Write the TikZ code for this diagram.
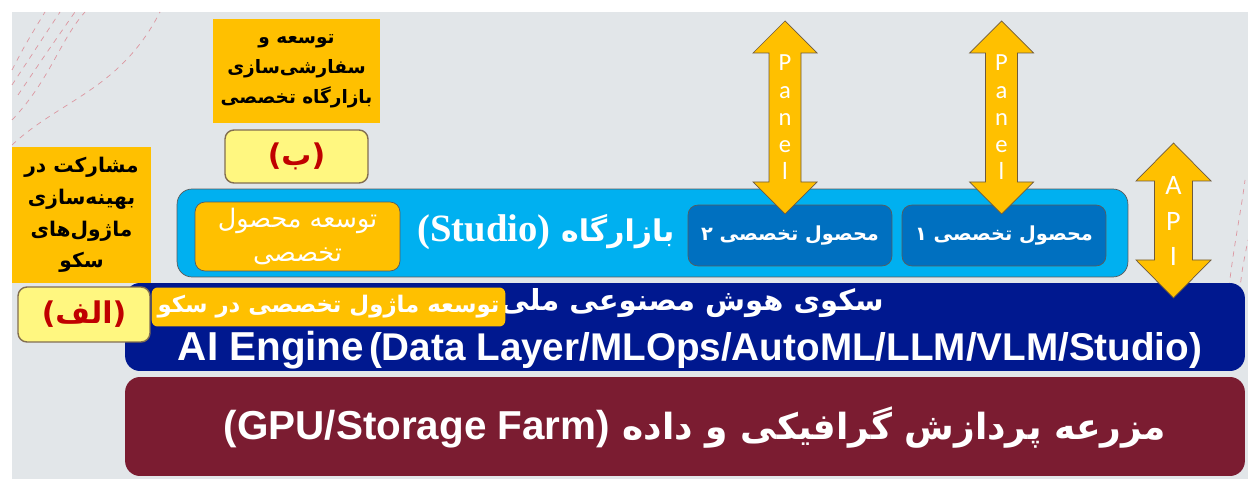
\documentclass[tikz,border=0pt]{standalone}
\usepackage{fontspec}
\setmainfont{Liberation Sans}
\newfontfamily\fa[Script=Arabic]{DejaVu Sans}
\newfontfamily\serifb{Liberation Serif}
\newfontfamily\panelfont{Carlito}
\TeXXeTstate=1
\newcommand{\fatxt}[1]{{\fa\beginR #1\endR}}
% double arrow outline: x, top tip, bottom tip, shaft half width, head half width, head length
\newcommand{\arrowpath}[6]{({#1},{#2}) -- ({#1+#5},{#2+#6}) -- ({#1+#4},{#2+#6}) -- ({#1+#4},{#3-#6})
  -- ({#1+#5},{#3-#6}) -- ({#1},{#3}) -- ({#1-#5},{#3-#6}) -- ({#1-#4},{#3-#6})
  -- ({#1-#4},{#2+#6}) -- ({#1-#5},{#2+#6}) -- cycle}

\definecolor{skoorange}{RGB}{255,192,0}
\definecolor{lightyel}{RGB}{255,247,128}
\definecolor{yelborder}{RGB}{130,110,80}
\definecolor{redtxt}{RGB}{192,0,0}
\definecolor{studioblue}{RGB}{0,176,240}
\definecolor{prodblue}{RGB}{0,112,192}
\definecolor{bandblue}{RGB}{0,24,143}
\definecolor{farmred}{RGB}{123,28,49}
\definecolor{bggray}{RGB}{226,230,233}
\definecolor{boxline}{RGB}{90,90,90}
\definecolor{arrowline}{RGB}{110,90,60}
\definecolor{decopink}{RGB}{220,150,160}

\tikzset{
  orangebox/.style={fill=skoorange, align=center, inner sep=2pt},
  letterbox/.style={fill=lightyel, draw=yelborder, thick, rounded corners=0.18cm, text=redtxt, font=\bfseries\fontsize{17}{20}\selectfont},
  bandbox/.style={rounded corners=0.3cm, inner sep=0pt},
  prodbox/.style={fill=prodblue, draw=boxline, rounded corners=0.2cm, text=white, font=\bfseries\fontsize{11}{13}\selectfont, minimum width=4.08cm, minimum height=1.22cm},
  arrowshape/.style={fill=skoorange, draw=arrowline, line join=miter},
  arrowtext/.style={text=white, align=center, inner sep=0pt, font=\panelfont\fontsize{14}{15.5}\selectfont},
  deco/.style={decopink, dashed, thin}
}

\begin{document}
\begin{tikzpicture}[x=0.02cm, y=-0.02cm]
\useasboundingbox (0,0) rectangle (1248,479);
\fill[bggray] (12,12) rectangle (1248,479);

% dashed lines in the corners
\draw[deco] (12,70) .. controls (25,45) .. (45,12);
\draw[deco] (12,85) .. controls (35,50) .. (60,12);
\draw[deco] (18,95) .. controls (45,55) .. (75,12);
\draw[deco] (12,120) .. controls (50,80) and (60,40) .. (85,12);
\draw[deco] (12,145) .. controls (60,100) and (120,90) .. (160,12);
\draw[deco] (1225,330) .. controls (1230,260) and (1240,220) .. (1245,180);
\draw[deco] (1238,335) .. controls (1240,280) .. (1248,240);

% layers
\node[bandbox, fill=farmred, minimum width=22.4cm, minimum height=1.98cm] (farm) at (685,426.5) {};
\node[text=white, font=\bfseries\fontsize{20.5}{24}\selectfont] (farmlbl) at (695,428)
      {\fa\beginR مزرعه پردازش گرافیکی و داده \beginL{\rmfamily\fontsize{23}{26}\selectfont (GPU/Storage Farm)}\endL\endR};
\node[bandbox, fill=bandblue, minimum width=22.4cm, minimum height=1.76cm] (engine) at (685,327) {};
\node[text=white, font=\bfseries\fontsize{16.5}{20}\selectfont] (enginefa) at (692,303) {\fatxt{سکوی هوش مصنوعی ملی}};
\node[text=white, font=\bfseries] (enginelat) at (690,350)
      {{\fontsize{23}{26}\selectfont AI Engine} {\fontsize{22}{26}\selectfont (Data Layer/MLOps/AutoML/LLM/VLM/Studio)}};
\node[fill=skoorange, rounded corners=0.12cm, minimum width=6.94cm, minimum height=0.78cm, text=white,
      font=\bfseries\fontsize{13}{16}\selectfont] (moddev) at (328.5,307) {\fatxt{توسعه ماژول تخصصی در سکو}};

\node[bandbox, fill=studioblue, draw=boxline, minimum width=19.02cm, minimum height=1.76cm] (studio) at (652.5,233) {};
\node[text=white, font=\bfseries\fontsize{17}{22}\selectfont] (studiolbl) at (546,232)
      {\fa\beginR بازارگاه \beginL{\serifb\fontsize{22}{24}\selectfont (Studio)}\endL\endR};
\node[fill=skoorange, draw=boxline, rounded corners=0.2cm, minimum width=4.1cm, minimum height=1.38cm, text=white,
      align=center, font=\fontsize{14.5}{19}\selectfont] (proddev) at (297.5,236.5) {\fatxt{توسعه محصول}\\\fatxt{تخصصی}};
\node[prodbox] (prodb) at (790,235.5) {\fatxt{محصول تخصصی ۲}};
\node[prodbox] (proda) at (1004,235.5) {\fatxt{محصول تخصصی ۱}};

% side notes
\node[orangebox, minimum width=3.34cm, minimum height=2.08cm, font=\bfseries\fontsize{10.5}{17}\selectfont] (custom) at (296.5,71)
      {\fatxt{توسعه و}\\\fatxt{سفارشی‌سازی}\\\fatxt{بازارگاه تخصصی}};
\node[letterbox, minimum width=2.86cm, minimum height=1.06cm] (markb) at (296.5,156.5) {\fa (ب)};
\node[orangebox, minimum width=2.78cm, minimum height=2.72cm, font=\bfseries\fontsize{11.5}{18}\selectfont] (optim) at (81.5,215)
      {\fatxt{مشارکت در}\\\fatxt{بهینه‌سازی}\\\fatxt{ماژول‌های}\\\fatxt{سکو}};
\node[letterbox, minimum width=2.64cm, minimum height=1.1cm] (marka) at (84,314.5) {\fa (الف)};

% arrows
\filldraw[arrowshape] \arrowpath{785}{21}{214}{16}{32}{32};
\filldraw[arrowshape] \arrowpath{1001.5}{21}{214}{16}{32}{32};
\filldraw[arrowshape] \arrowpath{1173.5}{143}{298}{19}{37.5}{38};
\node[arrowtext] (panelb) at (785,117.5) {P\\a\\n\\e\\l};
\node[arrowtext] (panela) at (1001.5,117.5) {P\\a\\n\\e\\l};
\node[arrowtext, font=\panelfont\fontsize{16}{20}\selectfont] (api) at (1173.5,221) {A\\P\\I};
\end{tikzpicture}
\end{document}
